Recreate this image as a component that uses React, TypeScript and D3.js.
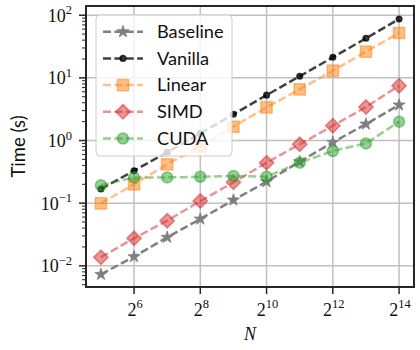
import React from "react";
import * as d3 from "d3";

const nValues = [32, 64, 128, 256, 512, 1024, 2048, 4096, 8192, 16384];
const baseline = [0.0073, 0.014, 0.0285, 0.0558, 0.112, 0.22, 0.459, 0.935, 1.83, 3.69];
const vanilla = [0.168, 0.33, 0.65, 1.3, 2.62, 5.3, 10.6, 21.3, 42.8, 87];
const linear = [0.099, 0.2, 0.417, 0.8, 1.66, 3.39, 6.56, 13, 26.2, 52];
const simd = [0.0137, 0.0275, 0.0525, 0.108, 0.215, 0.442, 0.87, 1.72, 3.42, 7.5];
const cuda = [0.193, 0.258, 0.258, 0.264, 0.271, 0.264, 0.443, 0.68, 0.9, 2.0];

const seriesNames = ["Baseline", "Vanilla", "Linear", "SIMD", "CUDA"];
const xTickExps = [6, 8, 10, 12, 14];
const yTickExps = [-2, -1, 0, 1, 2];

const W = 420;
const H = 350;
const L = 86, R = 414, T = 6, B = 287;

const serif = "'Liberation Serif', 'DejaVu Serif', serif";
const sans = "Lato, 'Open Sans', sans-serif";

type Style = { color: string; alpha: number; marker: string; size: number; mAlpha: number };
const styles: Record<string, Style> = {
  Baseline: { color: "#7f7f7f", alpha: 1, marker: "star", size: 6.4, mAlpha: 1 },
  Vanilla: { color: "#000000", alpha: 0.75, marker: "dot", size: 2.8, mAlpha: 0.75 },
  Linear: { color: "#ff7f0e", alpha: 0.5, marker: "square", size: 5.6, mAlpha: 0.5 },
  SIMD: { color: "#d62728", alpha: 0.5, marker: "diamond", size: 7.2, mAlpha: 0.5 },
  CUDA: { color: "#2ca02c", alpha: 0.5, marker: "circle", size: 5.5, mAlpha: 0.5 },
};

function markerPath(kind: string, s: number): string {
  if (kind === "star") return d3.symbol(d3.symbolStar, (s * s) / 0.8908130915292852)() as string;
  if (kind === "dot" || kind === "circle") return d3.symbol(d3.symbolCircle, Math.PI * s * s)() as string;
  if (kind === "square") return d3.symbol(d3.symbolSquare, 4 * s * s)() as string;
  const p = d3.path();
  p.moveTo(0, -s); p.lineTo(s, 0); p.lineTo(0, s); p.lineTo(-s, 0); p.closePath();
  return p.toString();
}

function Marker({ kind, s, st, x, y }: { kind: string; s: number; st: Style; x: number; y: number }) {
  const isStar = kind === "star";
  return (
    <path
      d={markerPath(kind, s)}
      transform={`translate(${x},${y})`}
      fill={st.color}
      fillOpacity={st.mAlpha}
      stroke={st.color}
      strokeOpacity={st.mAlpha}
      strokeWidth={isStar ? 0.8 : 1.5}
      strokeLinejoin="miter"
    />
  );
}

export default function App() {
  const x = d3.scaleLog().base(2).domain([Math.pow(2, 4.55), Math.pow(2, 14.45)]).range([L, R]);
  const y = d3.scaleLog().domain([Math.pow(10, -2.338), Math.pow(10, 2.147)]).range([B, T]);

  const data: Record<string, number[]> = {
    Baseline: baseline,
    Vanilla: vanilla,
    Linear: linear,
    SIMD: simd,
    CUDA: cuda,
  };

  const line = d3
    .line<number>()
    .x((_, i) => x(nValues[i]))
    .y((d) => y(d));

  const minorTicks: number[] = [];
  for (let e = -3; e <= 2; e++) {
    for (let m = 2; m <= 9; m++) {
      const v = m * Math.pow(10, e);
      const [lo, hi] = y.domain();
      if (v >= lo && v <= hi) minorTicks.push(v);
    }
  }

  const dash = "8,3.4";
  const lw = 2.5;

  const legX = 96, legY = 15, legW = 136, legH = 141;
  const legRowY = (i: number) => 31.7 + i * 26.7;

  return (
    <svg width={W} height={H} style={{ position: "absolute", left: 0, top: 0, background: "#fff" }}>
      <rect x={0} y={0} width={W} height={H} fill="#fff" />
      <g stroke="#c0c0c0" strokeWidth={1.5}>
        {xTickExps.map((e) => (
          <line key={"gx" + e} x1={x(Math.pow(2, e))} x2={x(Math.pow(2, e))} y1={T} y2={B} />
        ))}
        {yTickExps.map((e) => (
          <line key={"gy" + e} x1={L} x2={R} y1={y(Math.pow(10, e))} y2={y(Math.pow(10, e))} />
        ))}
      </g>

      {seriesNames.map((name) => {
        const st = styles[name];
        const vals = data[name];
        return (
          <g key={name}>
            <path
              d={line(vals) as string}
              fill="none"
              stroke={st.color}
              strokeOpacity={st.alpha}
              strokeWidth={lw}
              strokeDasharray={dash}
            />
            {vals.map((v, i) => (
              <Marker key={i} kind={st.marker} s={st.size} st={st} x={x(nValues[i])} y={y(v)} />
            ))}
          </g>
        );
      })}

      <rect x={L} y={T} width={R - L} height={B - T} fill="none" stroke="#262626" strokeWidth={2} />

      <g stroke="#262626">
        {yTickExps.map((e) => (
          <line key={"yt" + e} x1={L - 7} x2={L} y1={y(Math.pow(10, e))} y2={y(Math.pow(10, e))} strokeWidth={1.5} />
        ))}
        {minorTicks.map((v, i) => (
          <line key={"ym" + i} x1={L - 4} x2={L} y1={y(v)} y2={y(v)} strokeWidth={1} />
        ))}
        {xTickExps.map((e) => (
          <line key={"xt" + e} x1={x(Math.pow(2, e))} x2={x(Math.pow(2, e))} y1={B} y2={B + 7} strokeWidth={1.5} />
        ))}
      </g>

      {yTickExps.map((e) => (
        <text
          key={"yl" + e}
          x={72}
          y={y(Math.pow(10, e)) + 6.5}
          textAnchor="end"
          fontFamily={serif}
          fontSize={18}
          fill="#111"
        >
          10
          <tspan fontSize={12.5} dy={-7.5}>
            {e < 0 ? "\u2212" + Math.abs(e) : String(e)}
          </tspan>
        </text>
      ))}

      {xTickExps.map((e) => (
        <text
          key={"xl" + e}
          x={x(Math.pow(2, e)) + 1}
          y={315.5}
          textAnchor="middle"
          fontFamily={serif}
          fontSize={18}
          fill="#111"
        >
          2
          <tspan fontSize={12.5} dy={-7.5}>
            {String(e)}
          </tspan>
        </text>
      ))}

      <text x={(L + R) / 2} y={339.5} textAnchor="middle" fontFamily={serif} fontStyle="italic" fontSize={18} fill="#111">
        N
      </text>
      <text
        transform={`translate(24.5,${(T + B) / 2}) rotate(-90)`}
        textAnchor="middle"
        fontFamily={sans}
        fontSize={18.5}
        fill="#111"
      >
        Time (s)
      </text>

      <rect x={legX} y={legY} width={legW} height={legH} rx={4} ry={4} fill="#fff" fillOpacity={0.8} stroke="#cccccc" strokeWidth={1} />
      {seriesNames.map((name, i) => {
        const st = styles[name];
        const yy = legRowY(i);
        return (
          <g key={"lg" + name}>
            <line
              x1={103}
              x2={143}
              y1={yy}
              y2={yy}
              stroke={st.color}
              strokeOpacity={st.alpha}
              strokeWidth={lw}
              strokeDasharray={dash}
            />
            <Marker kind={st.marker} s={st.size} st={st} x={123} y={yy} />
            <text x={157} y={yy + 6.3} fontFamily={sans} fontSize={18.2} fill="#111">
              {name}
            </text>
          </g>
        );
      })}
    </svg>
  );
}
